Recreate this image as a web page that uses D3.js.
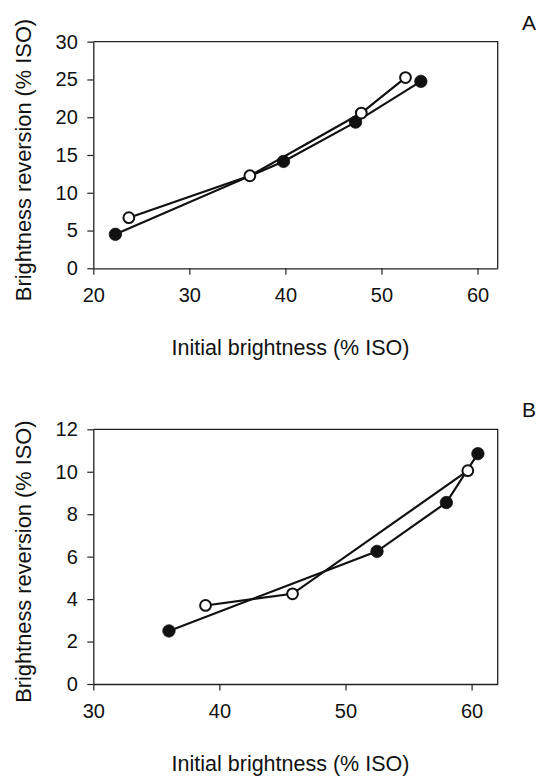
<!DOCTYPE html>
<html>
<head>
<meta charset="utf-8">
<script src="https://cdn.jsdelivr.net/npm/d3@7"></script>
<style>
  body { margin: 0; background: #fff; }
  svg { display: block; font-family: "Liberation Sans", Arial, sans-serif; }
</style>
</head>
<body>
<svg id="chart" width="539" height="776"></svg>
<script>
// Panel A: brightness reversion vs initial brightness
const aFilledX = [22.3, 39.8, 47.3, 54.1];
const aFilledY = [4.5, 14.15, 19.35, 24.75];
const aOpenX = [23.7, 36.3, 47.9, 52.5];
const aOpenY = [6.7, 12.25, 20.55, 25.25];
const aXTicks = [20, 30, 40, 50, 60];
const aYTicks = [0, 5, 10, 15, 20, 25, 30];

// Panel B
const bFilledX = [36.0, 52.5, 58.0, 60.5];
const bFilledY = [2.5, 6.25, 8.55, 10.85];
const bOpenX = [38.9, 45.8, 59.7];
const bOpenY = [3.7, 4.25, 10.05];
const bXTicks = [30, 40, 50, 60];
const bYTicks = [0, 2, 4, 6, 8, 10, 12];

const svg = d3.select("#chart");
const ink = "#111";

function zip(xs, ys) {
  return xs.map((x, i) => ({ x, y: ys[i] }));
}

function drawPanel({ top, bottom, xDomain, yDomain, xTicks, yTicks, filled, open, tag, tagY }) {
  const left = 93.3, right = 497.7;
  const x = d3.scaleLinear().domain(xDomain).range([left, right]);
  const y = d3.scaleLinear().domain(yDomain).range([bottom, top]);
  const g = svg.append("g");

  // frame (top and right sides, no ticks)
  g.append("path")
    .attr("d", `M${left},${top}H${right}V${bottom}`)
    .attr("fill", "none").attr("stroke", "#222").attr("stroke-width", 1.3);

  const xAxis = g.append("g")
    .attr("transform", `translate(0,${bottom})`)
    .call(d3.axisBottom(x).tickValues(xTicks).tickSize(6.5).tickSizeOuter(0).tickPadding(10));
  const yAxis = g.append("g")
    .attr("transform", `translate(${left},0)`)
    .call(d3.axisLeft(y).tickValues(yTicks).tickSize(6).tickSizeOuter(0).tickPadding(9.5));

  [xAxis, yAxis].forEach(a => {
    a.select(".domain").attr("stroke", "#222").attr("stroke-width", 1.3);
    a.selectAll(".tick line").attr("stroke", "#222").attr("stroke-width", 1.2);
    a.selectAll(".tick text")
      .attr("fill", ink)
      .style("font-size", "20px")
      .style("font-family", "'Liberation Sans', Arial, sans-serif");
  });
  xAxis.selectAll(".tick text").attr("dy", "0.85em");

  const line = d3.line().x(d => x(d.x)).y(d => y(d.y));
  [filled, open].forEach(s => {
    g.append("path").datum(s).attr("d", line)
      .attr("fill", "none").attr("stroke", ink).attr("stroke-width", 2.2);
  });

  g.selectAll("circle.filled").data(filled).join("circle")
    .attr("class", "filled")
    .attr("cx", d => x(d.x)).attr("cy", d => y(d.y)).attr("r", 6.2)
    .attr("fill", ink).attr("stroke", ink).attr("stroke-width", 0.8);
  g.selectAll("circle.open").data(open).join("circle")
    .attr("class", "open")
    .attr("cx", d => x(d.x)).attr("cy", d => y(d.y)).attr("r", 5.4)
    .attr("fill", "#fff").attr("stroke", ink).attr("stroke-width", 2);

  g.append("text")
    .attr("x", (left + right) / 2 - 5).attr("y", bottom + 86.5)
    .attr("text-anchor", "middle").attr("fill", ink)
    .style("font-size", "21.5px")
    .text("Initial brightness (% ISO)");

  g.append("text")
    .attr("transform", `translate(31,${(top + bottom) / 2 + 5}) rotate(-90)`)
    .attr("text-anchor", "middle").attr("fill", ink)
    .style("font-size", "21.8px")
    .text("Brightness reversion (% ISO)");

  g.append("text")
    .attr("x", 522).attr("y", tagY)
    .attr("fill", ink).style("font-size", "21px")
    .text(tag);
}

drawPanel({
  top: 41.7, bottom: 268.3,
  xDomain: [20, 62.1], yDomain: [0, 30],
  xTicks: aXTicks, yTicks: aYTicks,
  filled: zip(aFilledX, aFilledY), open: zip(aOpenX, aOpenY),
  tag: "A", tagY: 30
});

drawPanel({
  top: 429.3, bottom: 684,
  xDomain: [30, 62.07], yDomain: [0, 12],
  xTicks: bXTicks, yTicks: bYTicks,
  filled: zip(bFilledX, bFilledY), open: zip(bOpenX, bOpenY),
  tag: "B", tagY: 417
});
</script>
</body>
</html>
